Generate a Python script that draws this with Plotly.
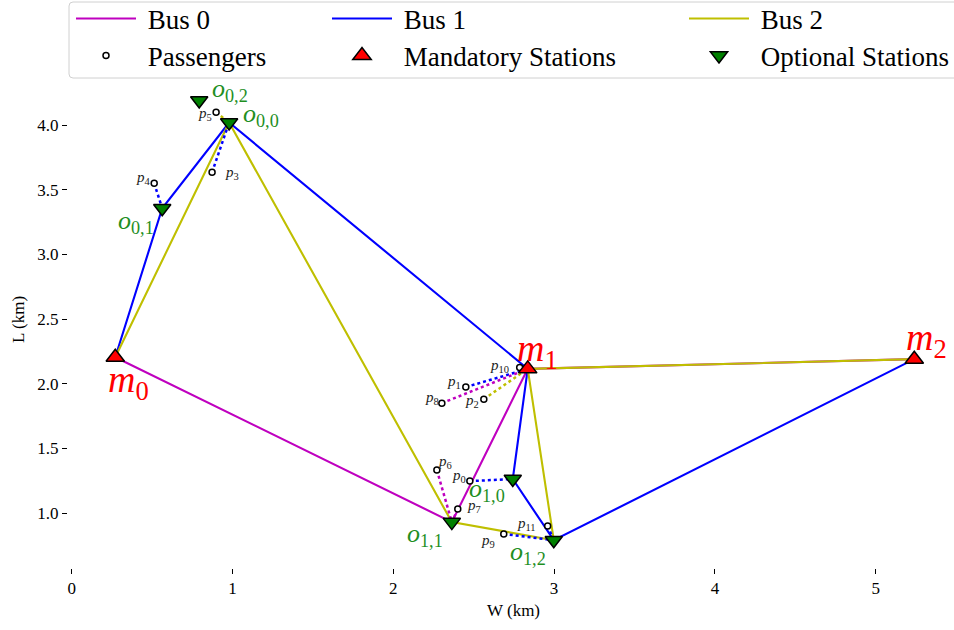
import plotly.graph_objects as go

# ---------------- data ----------------
station_names = ["m0", "m1", "m2", "o00", "o01", "o02", "o10", "o11", "o12"]
station_x = [0.271, 2.836, 5.240, 0.979, 0.563, 0.793, 2.743, 2.364, 2.998]
station_y = [2.205, 2.115, 2.190, 4.020, 3.357, 4.190, 1.263, 0.930, 0.790]
station_base = ["m", "m", "m", "o", "o", "o", "o", "o", "o"]
station_sub = ["0", "1", "2", "0,0", "0,1", "0,2", "1,0", "1,1", "1,2"]
mandatory = ["m0", "m1", "m2"]
optional = ["o00", "o01", "o02", "o10", "o11", "o12"]

bus_names = ["Bus 0", "Bus 1", "Bus 2"]
bus_routes = [
    ["m0", "o11", "m1", "m2"],
    ["m0", "o01", "o00", "m1", "o10", "o12", "m2"],
    ["m0", "o00", "o11", "o12", "m1", "m2"],
]

pass_sub = [str(i) for i in range(12)]
pass_x = [2.476, 2.451, 2.563, 0.873, 0.513, 0.898, 2.271, 2.401, 2.302, 2.687, 2.786, 2.960]
pass_y = [1.247, 1.974, 1.881, 3.635, 3.550, 4.099, 1.332, 1.031, 1.850, 0.838, 2.125, 0.900]
pass_station = ["o10", "m1", "m1", "o00", "o01", "o00", "o11", "o11", "m1", "o12", "m1", "o12"]
pass_bus = [1, 1, 2, 1, 1, 2, 0, 0, 0, 1, 1, 1]

x_ticks = [0, 1, 2, 3, 4, 5]
y_ticks = [1.0, 1.5, 2.0, 2.5, 3.0, 3.5, 4.0]

# ---------------- style ----------------
bus_colors = ["#BF00BF", "#0000FF", "#BFBF00"]
GREEN_TXT = "#1f8f1f"
FONT = "Liberation Serif"
W, H = 954, 630
ML, MR, MT, MB = 68, 0, 80, 62

sx = dict(zip(station_names, station_x))
sy = dict(zip(station_names, station_y))

fig = go.Figure()

legend_ids = ["legend", "legend2", "legend3", "legend4", "legend5", "legend6"]
NB = "\u00a0"

# bus routes
for b, (name, route) in enumerate(zip(bus_names, bus_routes)):
    fig.add_trace(go.Scatter(
        x=[sx[s] for s in route], y=[sy[s] for s in route],
        mode="lines", name=NB + name, line=dict(color=bus_colors[b], width=2.1),
        legend=legend_ids[b], hoverinfo="skip"))

# passenger walking links
for i in range(len(pass_x)):
    st = pass_station[i]
    fig.add_trace(go.Scatter(
        x=[pass_x[i], sx[st]], y=[pass_y[i], sy[st]], mode="lines",
        line=dict(color=bus_colors[pass_bus[i]], width=2.5, dash="dot"),
        showlegend=False, hoverinfo="skip"))

fig.add_trace(go.Scatter(
    x=pass_x, y=pass_y, mode="markers", name=NB + "Passengers",
    marker=dict(symbol="circle", size=6, color="white",
                line=dict(color="black", width=1.5)),
    legend="legend4"))
fig.add_trace(go.Scatter(
    x=[sx[s] for s in mandatory], y=[sy[s] for s in mandatory], mode="markers",
    name=NB + "Mandatory Stations",
    marker=dict(symbol="triangle-up", size=16, color="red",
                line=dict(color="black", width=1.5)),
    legend="legend5"))
fig.add_trace(go.Scatter(
    x=[sx[s] for s in optional], y=[sy[s] for s in optional], mode="markers",
    name=NB + "Optional Stations",
    marker=dict(symbol="triangle-down", size=15, color="#008000",
                line=dict(color="black", width=1.5)),
    legend="legend6"))


def px_to_paper_x(X):
    return (X - ML) / (W - ML - MR)


def px_to_paper_y(Y):
    return (H - MB - Y) / (H - MT - MB)


# labels
label_shift = {
    "m0": (13, -25), "m1": (10, 18), "m2": (12, 19),
    "o00": (32, 8), "o01": (-26, -14), "o02": (31, 11),
    "o10": (-26, -11), "o11": (-27, -13), "o12": (-26, -13),
}
annotations = []
for s, base, sub in zip(station_names, station_base, station_sub):
    dx, dy = label_shift[s]
    big = base == "m"
    annotations.append(dict(
        x=sx[s], y=sy[s], xref="x", yref="y",
        text="<i>%s</i><sub>%s</sub>" % (base, sub),
        showarrow=False, xshift=dx, yshift=dy, xanchor="center", yanchor="middle",
        font=dict(family=FONT, size=38 if big else 26,
                  color="red" if big else GREEN_TXT)))
pass_shift = [(-11, 5), (-12, 5), (-12, -2), (20, -1), (-11, 5), (-11, -2),
              (8, 8), (16, 3), (-10, 5), (-16, -7), (-20, 2), (-21, 2)]
for i, sub in enumerate(pass_sub):
    dx, dy = pass_shift[i]
    annotations.append(dict(
        x=pass_x[i], y=pass_y[i], xref="x", yref="y",
        text="<i>p</i><sub>%s</sub>" % sub,
        showarrow=False, xshift=dx, yshift=dy, xanchor="center", yanchor="middle",
        font=dict(family=FONT, size=15, color="#222222")))

# axis titles
annotations.append(dict(x=px_to_paper_x(513), y=px_to_paper_y(610),
                        xref="paper", yref="paper", text="W (km)", showarrow=False,
                        xanchor="center", yanchor="middle",
                        font=dict(family=FONT, size=17)))
annotations.append(dict(x=px_to_paper_x(18), y=px_to_paper_y(320),
                        xref="paper", yref="paper", text="L (km)", showarrow=False,
                        textangle=-90, xanchor="center", yanchor="middle",
                        font=dict(family=FONT, size=17)))

# legend frame (rounded)
x0, x1, y0, y1 = 69, 962, 2, 78
r = 4
path = ("M{a},{t} L{b},{t} Q{c},{t} {c},{t2} L{c},{b2} Q{c},{bo} {b},{bo} "
        "L{a},{bo} Q{l},{bo} {l},{b2} L{l},{t2} Q{l},{t} {a},{t} Z").format(
    a=px_to_paper_x(x0 + r), b=px_to_paper_x(x1 - r), c=px_to_paper_x(x1),
    l=px_to_paper_x(x0), t=px_to_paper_y(y0), t2=px_to_paper_y(y0 + r),
    b2=px_to_paper_y(y1 - r), bo=px_to_paper_y(y1))
shapes = [dict(type="path", xref="paper", yref="paper", path=path,
               line=dict(color="#d0d0d0", width=1), fillcolor="rgba(255,255,255,0.8)",
               layer="below")]

col_x = [71, 327, 684]
row_y = [19, 56]
legend_layouts = {}
for k, lid in enumerate(legend_ids):
    col, row = k % 3, k // 3
    legend_layouts[lid] = dict(
        x=col_x[col] / W, y=1 - row_y[row] / H, xref="container", yref="container",
        xanchor="left", yanchor="middle", bgcolor="rgba(0,0,0,0)", borderwidth=0,
        font=dict(family=FONT, size=27, color="black"), itemwidth=60)

fig.update_layout(
    width=W, height=H, margin=dict(l=ML, r=MR, t=MT, b=MB, autoexpand=False),
    plot_bgcolor="white", paper_bgcolor="white",
    font=dict(family=FONT, size=17, color="black"),
    showlegend=True,
    annotations=annotations, shapes=shapes,
    xaxis=dict(range=[-0.023, 5.487], tickvals=x_ticks, ticks="outside",
               ticklen=5, tickwidth=1, tickcolor="black", showgrid=False,
               zeroline=False, showline=False, tickfont=dict(size=17)),
    yaxis=dict(range=[0.575, 4.349], tickvals=y_ticks,
               tickformat=".1f", ticks="outside", ticklen=5, tickwidth=1,
               tickcolor="black", showgrid=False, zeroline=False, showline=False,
               tickfont=dict(size=17)),
    **legend_layouts,
)

fig.write_html("out.html", config={"displayModeBar": False},
               post_script="document.body.style.margin='0';")
